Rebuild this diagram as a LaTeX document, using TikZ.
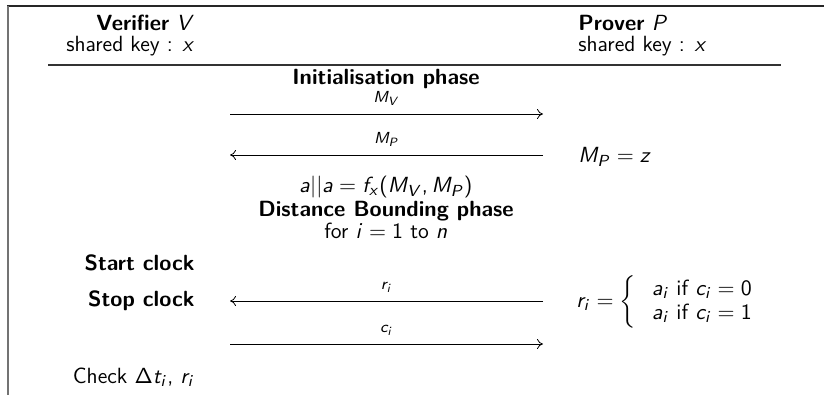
\documentclass[tikz,border=0pt]{standalone}
\usepackage{amsmath}
\usepackage{tikz}
\usetikzlibrary{arrows.meta,positioning}

% sans serif math, as on a slide
\SetSymbolFont{operators}{normal}{OT1}{cmss}{m}{n}
\SetSymbolFont{letters}{normal}{OT1}{cmss}{m}{sl}
\mathcode`\,="602C

\tikzset{
  msg/.style={midway, above, inner sep=4pt, font=\footnotesize\sffamily},
  lbl/.style={inner sep=0pt}
}

\begin{document}
\begin{tikzpicture}[x=0.5pt, y=-0.5pt, >={To[length=3pt,width=5pt]}, font=\fontsize{11}{13}\selectfont\sffamily]
  \useasboundingbox (0,0) rectangle (824,395);
  % Frame
  \draw[line width=1pt, black!85] (7,6) -- (824,6);
  \draw[line width=1pt, black!55] (8,6) -- (8,395);

  % Header
  \node[lbl, anchor=base east] (ver) at (195,31) {\textbf{Verifier} $V$};
  \node[lbl, anchor=base east] (verkey) at (195,52) {shared key : $x$};
  \node[lbl, anchor=base west] (prv) at (578,31) {\textbf{Prover} $P$};
  \node[lbl, anchor=base west] (prvkey) at (578,52) {shared key : $x$};
  \coordinate (ruleL) at (48,65);
  \coordinate (ruleR) at (781,65);
  \draw[line width=0.7pt, black!80] (ruleL) -- (ruleR);

  % Initialisation phase
  \node[lbl] (init) at (386,79) {\textbf{Initialisation phase}};
  \coordinate (mvL) at (230,114);
  \coordinate (mvR) at (543,114);
  \draw[->, thin] (mvL) -- (mvR) node[msg] {$M_V$};
  \coordinate (mpL) at (230,155);
  \coordinate (mpR) at (543,155);
  \draw[->, thin] (mpR) -- (mpL) node[msg] {$M_P$};
  \node[lbl, anchor=west] (mpz) at (578,157) {$M_P = z$};
  \node[lbl] (key) at (386,187) {$a||a = f_x(M_V, M_P)$};

  % Distance bounding phase
  \node[lbl] (db) at (386,211) {\textbf{Distance Bounding phase}};
  \node[lbl] (loop) at (386,231) {for $i = 1$ to $n$};
  \node[lbl, anchor=east] (start) at (195,263) {\textbf{Start clock}};
  \node[lbl, anchor=east] (stop) at (195,301) {\textbf{Stop clock}};
  \coordinate (riL) at (230,301);
  \coordinate (riR) at (543,301);
  \draw[->, thin] (riR) -- (riL) node[msg] {$r_i$};
  \node[lbl, anchor=west] (resp) at (576,302)
    {$r_i = \left\{\hspace{3pt}\begin{array}{l} a_i \mbox{ if } c_i = 0\\[-1pt] a_i \mbox{ if } c_i = 1\end{array}\right.$};
  \coordinate (ciL) at (230,344);
  \coordinate (ciR) at (543,344);
  \draw[->, thin] (ciL) -- (ciR) node[msg] {$c_i$};
  \node[lbl, anchor=east] (check) at (195,377) {Check $\Delta t_i$, $r_i$};
\end{tikzpicture}
\end{document}
